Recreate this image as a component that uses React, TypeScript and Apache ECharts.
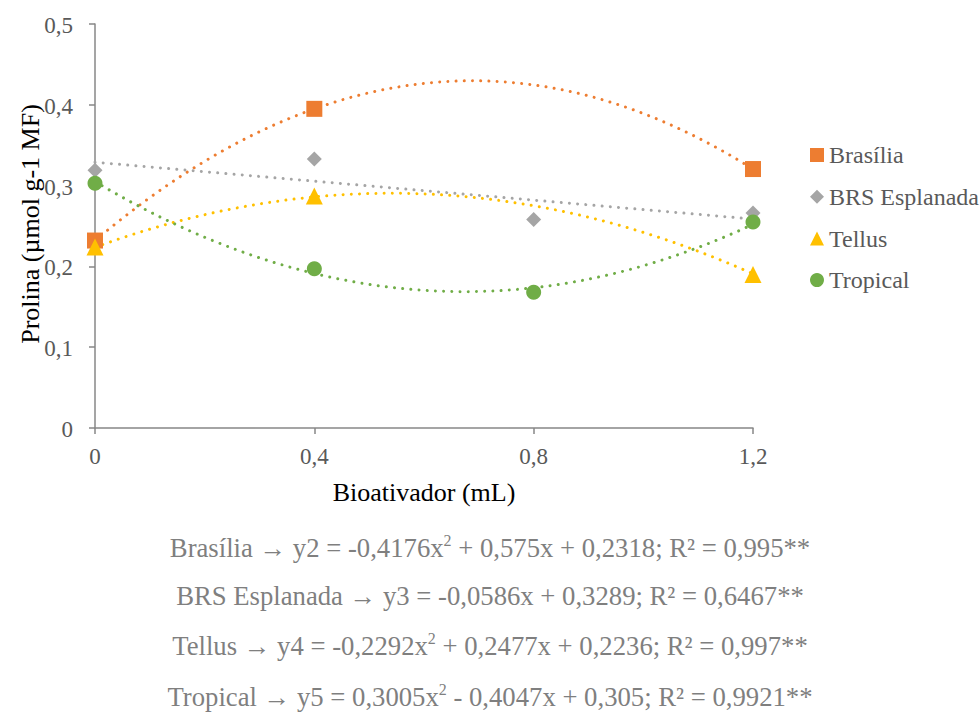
import React, { useEffect, useRef } from "react";
import * as echarts from "echarts";

// Bioactivator doses (mL), also the x tick values
const doses = [0, 0.4, 0.8, 1.2];

// Measured proline values per cultivar (null = not shown)
const brasilia = [0.232, 0.395, null, 0.3205];
const brsEsplanada = [0.319, 0.333, 0.258, 0.266];
const tellus = [0.224, 0.287, null, 0.19];
const tropical = [0.303, 0.197, 0.168, 0.255];

// Fitted polynomial coefficients [a2, a1, a0] : y = a2*x^2 + a1*x + a0
const fitBrasilia = [-0.4176, 0.575, 0.2318];
const fitEsplanada = [0, -0.0586, 0.3289];
const fitTellus = [-0.2292, 0.2477, 0.2236];
const fitTropical = [0.3005, -0.4047, 0.305];

const seriesNames = ["Brasília", "BRS Esplanada", "Tellus", "Tropical"];
const colors = ["#ED7D31", "#A5A5A5", "#FFC000", "#70AD47"];
const symbols = ["rect", "diamond", "triangle", "circle"];
const symbolSizes = [16, 15, 17, 15];

const yTicks = [0, 0.1, 0.2, 0.3, 0.4, 0.5];

const xTitle = "Bioativador (mL)";
const yTitle = "Prolina (µmol g-1 MF)";

const serif = "Liberation Serif";

function fitCurve(c: number[]): number[][] {
  const pts: number[][] = [];
  for (let i = 0; i <= 120; i++) {
    const x = i / 100;
    pts.push([x, c[0] * x * x + c[1] * x + c[2]]);
  }
  return pts;
}

const comma = (v: number) => String(Math.round(v * 10) / 10).replace(".", ",");

// serif text element built on rich tokens
function serifText(
  id: string,
  text: string,
  x: number,
  y: number,
  size: number,
  color: string,
  align: string,
  rotation = 0
) {
  return {
    type: "text",
    id,
    x,
    y,
    rotation,
    silent: true,
    style: {
      text: `{t|${text}}`,
      align,
      verticalAlign: "middle",
      rich: { t: { fontFamily: serif, fontSize: size, fill: color } },
    },
  };
}

export default function App() {
  const ref = useRef<HTMLDivElement>(null);

  useEffect(() => {
    if (!ref.current) return;
    const chart = echarts.init(ref.current, undefined, { renderer: "svg" });
    const measured = [brasilia, brsEsplanada, tellus, tropical];
    const fits = [fitBrasilia, fitEsplanada, fitTellus, fitTropical];

    const trendSeries = fits.map((c, i) => ({
      type: "line",
      name: seriesNames[i] + " (ajuste)",
      data: fitCurve(c),
      showSymbol: false,
      symbol: "none",
      z: 2,
      lineStyle: {
        color: colors[i],
        width: 3,
        type: [0.01, 8.2],
        cap: "round",
      },
      silent: true,
    }));

    const pointSeries = measured.map((vals, i) => ({
      type: "scatter",
      name: seriesNames[i],
      data: doses
        .map((d, j) => (vals[j] == null ? null : [d, vals[j]]))
        .filter((p) => p !== null),
      symbol: symbols[i],
      symbolSize: symbolSizes[i],
      itemStyle: { color: colors[i], opacity: 1 },
      z: 3,
    }));

    const axisLineStyle = { color: "#878787", width: 1.5 };

    chart.setOption({
      animation: false,
      backgroundColor: "#ffffff",
      grid: { left: 95, right: 227, top: 24, bottom: 285, containLabel: false },
      legend: {
        data: seriesNames,
        orient: "vertical",
        left: 805,
        top: 143,
        itemWidth: 14,
        itemHeight: 14,
        itemGap: 27.7,
        formatter: () => "",
        textStyle: { fontSize: 1, color: "transparent" },
        selectedMode: false,
      },
      xAxis: {
        type: "value",
        min: 0,
        max: 1.2,
        interval: 0.4,
        axisLine: { show: true, lineStyle: axisLineStyle },
        axisTick: { show: true, inside: false, length: 6, lineStyle: axisLineStyle },
        axisLabel: { show: false },
        splitLine: { show: false },
      },
      yAxis: {
        type: "value",
        min: 0,
        max: 0.5,
        interval: 0.1,
        axisLine: { show: true, lineStyle: axisLineStyle },
        axisTick: { show: true, inside: false, length: 6, lineStyle: axisLineStyle },
        axisLabel: { show: false },
        splitLine: { show: false },
      },
      series: [...trendSeries, ...pointSeries],
    });

    // Tick labels, titles, legend names and fitted equations as serif text
    const x0 = chart.convertToPixel({ xAxisIndex: 0 }, 0) as number;
    const x1 = chart.convertToPixel({ xAxisIndex: 0 }, 1.2) as number;
    const y0 = chart.convertToPixel({ yAxisIndex: 0 }, 0) as number;
    const y1 = chart.convertToPixel({ yAxisIndex: 0 }, 0.5) as number;

    const xTickTexts = doses.map((d, i) =>
      serifText(
        "xt" + i,
        comma(d),
        chart.convertToPixel({ xAxisIndex: 0 }, d) as number,
        y0 + 28,
        23,
        "#595959",
        "center"
      )
    );
    const yTickTexts = yTicks.map((v, i) =>
      serifText(
        "yt" + i,
        comma(v),
        x0 - 22,
        (chart.convertToPixel({ yAxisIndex: 0 }, v) as number) + 1.5,
        23,
        "#595959",
        "right"
      )
    );
    const titles = [
      serifText("xtitle", xTitle, (x0 + x1) / 2, y0 + 64, 26, "#000000", "center"),
      serifText("ytitle", yTitle, 30, (y0 + y1) / 2 - 2, 26, "#000000", "center", Math.PI / 2),
    ];
    const legendY = [155, 196.5, 238.5, 280];
    const legendTexts = seriesNames.map((n, i) =>
      serifText("lg" + i, n, 829, legendY[i], 24, "#595959", "left")
    );

    const equationLines = [
      { name: "Brasília", eq: "y2 = -0,4176x", sq: true, rest: " + 0,575x + 0,2318; R² = 0,995**" },
      { name: "BRS Esplanada", eq: "y3 = -0,0586x + 0,3289; R² = 0,6467**", sq: false, rest: "" },
      { name: "Tellus", eq: "y4 = -0,2292x", sq: true, rest: " + 0,2477x + 0,2236; R² = 0,997**" },
      { name: "Tropical", eq: "y5 = 0,3005x", sq: true, rest: " - 0,4047x + 0,305; R² = 0,9921**" },
    ];
    const eqY = [548, 598, 646, 697];
    const eqFont = 26.7;
    const equations = equationLines.map((l, i) => ({
      type: "text",
      id: "eq" + i,
      left: "center",
      top: eqY[i] - 16,
      silent: true,
      style: {
        text: l.sq
          ? `{t|${l.name} → ${l.eq}}{s|2}{t|${l.rest}}`
          : `{t|${l.name} → ${l.eq}}`,
        rich: {
          t: { fontFamily: serif, fontSize: eqFont, fill: "#7F7F7F", lineHeight: 32 },
          s: {
            fontFamily: serif,
            fontSize: 16,
            fill: "#7F7F7F",
            lineHeight: 32,
            verticalAlign: "top",
            padding: [0, 0, 12, 0],
          },
        },
      },
    }));

    chart.setOption({
      graphic: [...xTickTexts, ...yTickTexts, ...titles, ...legendTexts, ...equations],
    });

    return () => chart.dispose();
  }, []);

  return (
    <div
      ref={ref}
      style={{ position: "absolute", left: 0, top: 0, width: 980, height: 713 }}
    />
  );
}
